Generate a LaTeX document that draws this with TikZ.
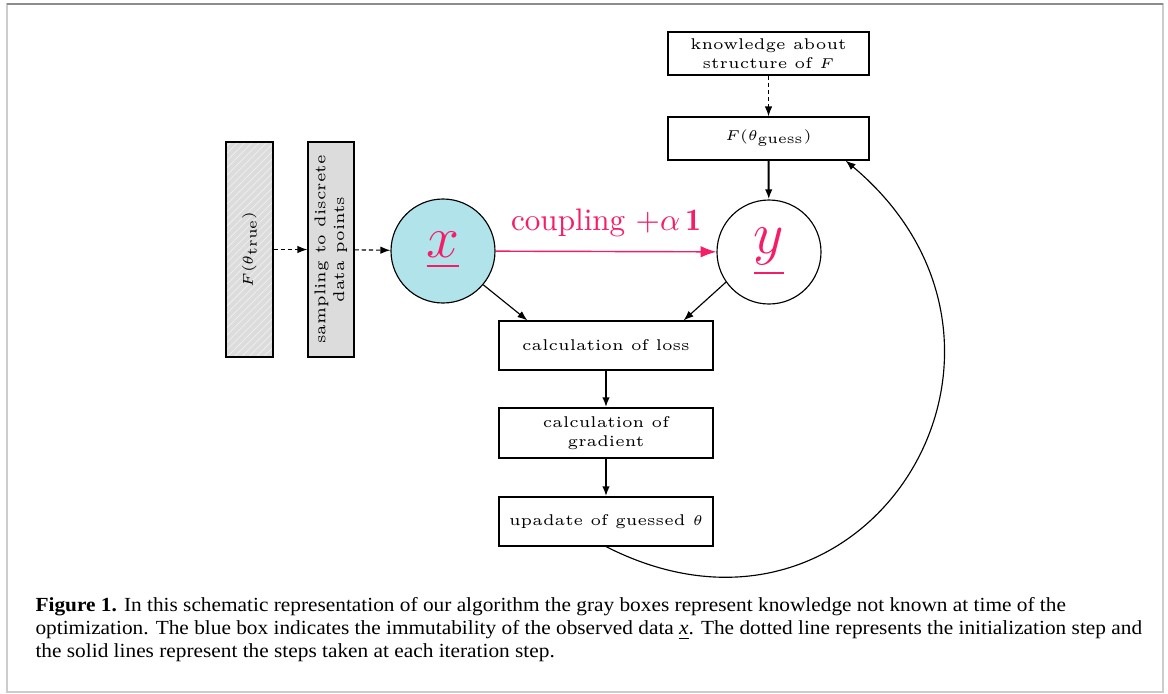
\documentclass[tikz,border=0pt]{standalone}
\usepackage{amsmath}
\usepackage{fontspec}
\usetikzlibrary{arrows.meta,patterns.meta}
\newfontfamily\capfont[FakeStretch=1.066]{Liberation Serif}
\DeclareMathSizes{5.45}{5.45}{5}{5}
\definecolor{pinkc}{RGB}{245,28,104}
\definecolor{cyanc}{RGB}{176,228,234}
\definecolor{boxgray}{RGB}{220,220,220}
\definecolor{hatchc}{RGB}{240,240,240}
\newcommand\uu{0.35pt}
\newcommand\boxfont{\fontsize{5.45pt}{6.5pt}\selectfont}
\tikzset{
  plainbox/.style={draw, line width=0.4pt, font=\boxfont, align=center, inner sep=0pt,
    minimum width=214*\uu, minimum height=49*\uu},
  topbox/.style={plainbox, minimum width=201*\uu, minimum height=43*\uu},
  graybox/.style={draw, line width=0.4pt, fill=boxgray, font=\boxfont, inner sep=0pt,
    minimum width=46*\uu, minimum height=215*\uu},
  hatchbox/.style={graybox, fill=none, preaction={fill=boxgray},
    pattern={Lines[angle=45, distance=1.8pt, line width=0.25pt]}, pattern color=hatchc},
  circ/.style={circle, draw, line width=0.4pt, minimum size=104*\uu, inner sep=0pt, font=\huge, text=pinkc},
  initline/.style={line width=0.4pt, dash pattern=on 1.5pt off 1pt, -{Latex[length=3.5pt,width=2.6pt]}},
  thinarrow/.style={line width=0.4pt, -{Latex[length=3.5pt,width=2.6pt]}},
  thickarrow/.style={line width=0.7pt, -{Latex[length=3.5pt,width=2.6pt]}},
  pinkarrow/.style={draw=pinkc, line width=0.5pt, -{Latex[length=5.5pt,width=4pt]}},
}
\begin{document}
\begin{tikzpicture}[x=0.35pt, y=0.35pt]
\useasboundingbox (0,0) rectangle (1168,-693);
% frame
\draw[gray!40, line width=0.7pt] (7,-4) rectangle (1163,-692);
\draw[gray!90, line width=0.5pt] (7,-4) -- (1163,-4);

\node[hatchbox, minimum width=47*\uu] (ftrue) at (249.5,-249.5) {\rotatebox{90}{$F(\theta_{\text{true}})$}};
\node[graybox] (samp) at (331,-249.5) {\rotatebox{90}{\begin{tabular}{@{}c@{}}sampling to discrete\\data points\end{tabular}}};
\node[circ, fill=cyanc] (xc) at (443,-251) {$\underline{x}$};
\node[circ] (yc) at (769,-252) {$\underline{y}$};
\node[topbox] (know) at (768.5,-53.5) {knowledge about\\structure of $F$};
\node[topbox] (guess) at (768.5,-138.5) {$F(\theta_{\text{guess}})$};
\node[plainbox] (loss) at (606,-345.5) {calculation of loss};
\node[plainbox, minimum height=50*\uu] (grad) at (606,-433) {calculation of\\gradient};
\node[plainbox] (upd) at (606,-521.5) {upadate of guessed $\theta$};

\draw[initline] (ftrue) -- (samp);
\draw[initline] (samp) -- (xc);
\draw[pinkarrow] (xc) -- node[above, yshift=1.5pt, font=\fontsize{10.9pt}{13pt}\selectfont, text=pinkc] {coupling $+\alpha\,\mathbf{1}$} (yc);
\draw[initline] (know) -- (guess);
\draw[thickarrow] (guess) -- (yc);
\draw[thinarrow] (xc.-40) -- ([xshift=29*\uu]loss.north west);
\draw[thinarrow] (yc.215) -- ([xshift=-30*\uu]loss.north east);
\draw[thickarrow] (loss) -- (grad);
\draw[thickarrow] (grad) -- (upd);
\draw[thinarrow] (upd.south) to[out=-27, in=-40, looseness=1.65] ([xshift=-24*\uu]guess.south east);

\node[anchor=north west, align=left, inner sep=0pt, font=\capfont\fontsize{7pt}{8.05pt}\selectfont] (cap) at (35,-597)
{\textbf{Figure 1.} In this schematic representation of our algorithm the gray boxes represent knowledge not known at time of the\\
optimization. The blue box indicates the immutability of the observed data \underline{\textit{x}}. The dotted line represents the initialization step and\\
the solid lines represent the steps taken at each iteration step.};
\end{tikzpicture}
\end{document}
